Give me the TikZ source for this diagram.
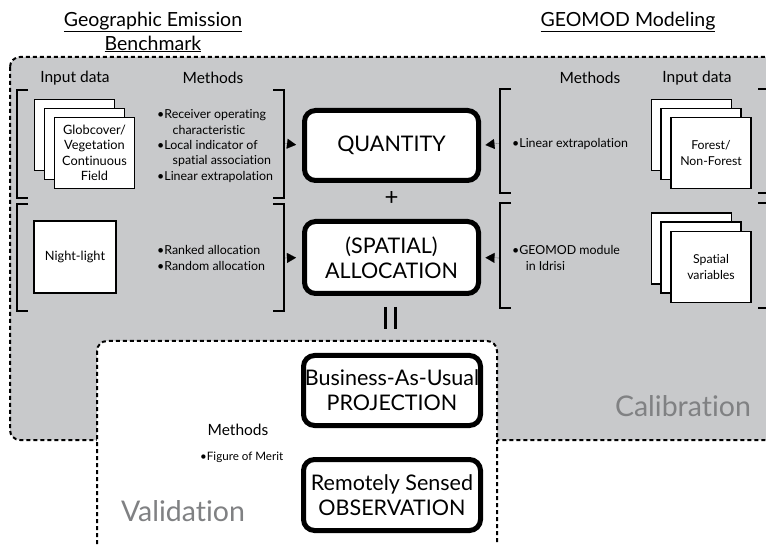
\documentclass[tikz,border=0pt]{standalone}
\usepackage{fontspec}
\setmainfont{Lato}[Ligatures={NoCommon,NoRare}]
\usetikzlibrary{arrows.meta}
\definecolor{calgray}{RGB}{200,201,203}
\definecolor{labelgray}{RGB}{128,129,131}
\tikzset{
  region/.style={draw=black, line width=2pt, dash pattern=on 4pt off 3pt, rounded corners=10pt},
  titletext/.style={font=\fontsize{19.5}{24}\selectfont, align=center, inner sep=0pt},
  heading/.style={font=\fontsize{15.5}{18}\selectfont, inner sep=0pt},
  bracketline/.style={line width=2.6pt},
  docbox/.style={draw, fill=white, line width=1.5pt, minimum width=80pt, minimum height=71pt,
    inner sep=2pt, align=center, font=\fontsize{12.8}{15.5}\selectfont},
  mainbox/.style={draw, fill=white, line width=5pt, rounded corners=11pt, align=center,
    inner sep=0pt, font=\fontsize{21.5}{25}\selectfont},
  methodtext/.style={font=\fontsize{12.4}{15.3}\selectfont, align=left, inner sep=0pt, anchor=west},
  feed/.style={-{Triangle[length=9pt,width=10pt]}, line width=0.1pt},
  bigword/.style={font=\fontsize{28.5}{32}\selectfont, text=labelgray, inner sep=0pt},
  eqbars/.style={minimum width=14pt, minimum height=22pt, inner sep=0pt,
    path picture={
      \draw[line width=3pt] ([xshift=-5pt]path picture bounding box.north) -- ([xshift=-5pt]path picture bounding box.south);
      \draw[line width=3pt] ([xshift=5pt]path picture bounding box.north) -- ([xshift=5pt]path picture bounding box.south);
    }}
}
\begin{document}
\begin{tikzpicture}[x=1pt, y=-1pt]
\useasboundingbox (0,0) rectangle (766,545);

% calibration and validation areas
\begin{scope}
  \clip (0,0) rectangle (766,545);
  \draw[region, fill=calgray] (10,57) rectangle (800,440);
  \draw[region, fill=white] (97,341) rectangle (497,580);
\end{scope}

% section titles
\node[titletext] (geb) at (153,32) {\underline{Geographic Emission}\\\underline{Benchmark}};
\node[titletext] (geomod) at (628,22) {\underline{GEOMOD Modeling}};

% column headings
\node[heading] (inl) at (75,78) {Input data};
\node[heading] (mel) at (213,78) {Methods};
\node[heading] (mer) at (590,78) {Methods};
\node[heading] (inr) at (697,78) {Input data};

% brackets, left side
\draw[bracketline] (28,90) -| (17,198) -- (28,198);
\draw[bracketline] (273,90) -| (284,198) -- (273,198);
\draw[bracketline] (28,204) -| (17,311) -- (28,311);
\draw[bracketline] (273,204) -| (284,311) -- (273,311);
% brackets, right side
\draw[bracketline] (511,89) -| (500,193) -- (511,193);
\draw[bracketline] (758,89) -| (767,193) -- (758,193);
\draw[bracketline] (511,203) -| (500,308) -- (511,308);
\draw[bracketline] (758,203) -| (767,308) -- (758,308);

% input data, left
\node[docbox] (gv1) at (74.5,135) {};
\node[docbox] (gv2) at (84.5,144) {};
\node[docbox] (gv3) at (94.5,153) {Globcover/\\Vegetation\\Continuous\\Field};
\node[docbox, minimum width=82pt, minimum height=72pt] (night) at (75,257) {Night-light};

% input data, right
\node[docbox] (ff1) at (691.5,135) {};
\node[docbox] (ff2) at (701,144) {};
\node[docbox, font=\fontsize{12.3}{15.5}\selectfont] (ff3) at (711,153) {Forest/\\Non-Forest};
\node[docbox] (sv1) at (691.5,248.5) {};
\node[docbox] (sv2) at (701,257.5) {};
\node[docbox, font=\fontsize{12.3}{15.5}\selectfont] (sv3) at (711,267) {Spatial\\variables};

% methods
\node[methodtext] (mq) at (157,146) {\textbullet Receiver operating\\\hspace*{1.25em}characteristic\\\textbullet Local indicator of\\\hspace*{1.25em}spatial association\\\textbullet Linear extrapolation};
\node[methodtext] (ma) at (157,258) {\textbullet Ranked allocation\\\textbullet Random allocation};
\node[methodtext] (mqr) at (512,144) {\textbullet Linear extrapolation};
\node[methodtext] (mar) at (512,258) {\textbullet GEOMOD module\\\hspace*{1.1em}in Idrisi};

% central boxes
\node[mainbox, minimum width=174pt, minimum height=70pt] (quantity) at (391.5,145.5) {QUANTITY};
\node[mainbox, minimum width=174pt, minimum height=72pt] (alloc) at (391.5,257.5) {(SPATIAL)\\ALLOCATION};
\node[font=\fontsize{24}{26}\selectfont, inner sep=0pt] (plus) at (391.5,199) {+};
\node[eqbars] (equals) at (390,318) {};

\node[mainbox, minimum width=177pt, minimum height=70pt] (bau) at (392,390.5) {Business-As-Usual\\PROJECTION};
\node[mainbox, minimum width=177pt, minimum height=71pt] (rso) at (392,495) {Remotely Sensed\\OBSERVATION};

% feeds from the method brackets
\coordinate (lq) at (285,143.5);
\coordinate (la) at (285,258);
\coordinate (rq) at (499,143.5);
\coordinate (ra) at (499,258);
\draw[feed, shorten >=6pt] (lq) -- (quantity.west);
\draw[feed, shorten >=6pt] (la) -- (alloc.west);
\draw[feed, shorten >=4.5pt] (rq) -- (quantity.east);
\draw[feed, shorten >=4.5pt] (ra) -- (alloc.east);

% validation
\node[heading] (mev) at (238,430) {Methods};
\node[methodtext, font=\fontsize{11.6}{14}\selectfont] (fom) at (200,457) {\textbullet Figure of Merit};

% area labels
\node[bigword] (cal) at (683,406) {Calibration};
\node[bigword] (val) at (183,511) {Validation};
\end{tikzpicture}
\end{document}
